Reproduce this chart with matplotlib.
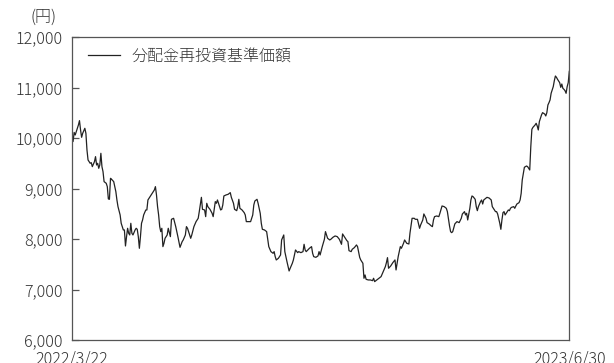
import matplotlib
matplotlib.use("Agg")
import matplotlib.pyplot as plt
import matplotlib.ticker as mticker
import pandas as pd

plt.rcParams['font.family'] = ['Noto Sans CJK JP', 'DejaVu Sans']
plt.rcParams['font.weight'] = 'light'

start_date = "2022-03-22"
end_date = "2023-06-30"
series_label = "分配金再投資基準価額"
unit_label = "(円)"
x_tick_labels = ["2022/3/22", "2023/6/30"]
y_ticks = [6000, 7000, 8000, 9000, 10000, 11000, 12000]

# days elapsed since start_date
day_offsets = [
    0, 1, 2, 3, 4, 6, 7, 8, 9, 10, 12, 13, 14, 15, 17, 18, 19, 21, 22, 23,
    24, 25, 26, 27, 28, 29, 30, 32, 33, 34, 35, 36, 37, 39, 41, 42, 43, 45, 46, 48,
    49, 50, 51, 52, 53, 54, 55, 56, 57, 59, 60, 61, 62, 63, 64, 65, 66, 67, 69, 70,
    71, 72, 74, 77, 78, 79, 80, 81, 82, 83, 84, 85, 86, 87, 89, 90, 92, 93, 95, 97,
    99, 101, 103, 104, 106, 107, 108, 109, 111, 112, 114, 116, 118, 119, 121, 122, 124, 125, 126, 127,
    129, 131, 132, 134, 135, 136, 137, 139, 140, 141, 142, 144, 146, 148, 149, 151, 152, 154, 155, 156,
    157, 159, 161, 162, 163, 164, 167, 169, 170, 171, 173, 174, 176, 177, 178, 180, 182, 184, 186, 188,
    189, 190, 191, 193, 195, 196, 198, 199, 201, 203, 204, 206, 207, 208, 209, 211, 212, 214, 216, 217,
    218, 219, 221, 222, 224, 225, 226, 228, 230, 231, 232, 234, 236, 237, 239, 241, 242, 244, 246, 248,
    250, 252, 253, 255, 257, 258, 259, 261, 262, 264, 266, 267, 269, 270, 272, 273, 274, 275, 277, 279,
    281, 282, 283, 285, 287, 289, 291, 293, 294, 295, 296, 298, 300, 302, 303, 305, 306, 307, 308, 310,
    311, 312, 313, 315, 316, 317, 318, 320, 321, 323, 325, 326, 328, 329, 331, 332, 334, 336, 337, 338,
    339, 341, 343, 344, 346, 348, 350, 351, 353, 354, 355, 356, 358, 360, 362, 364, 365, 367, 368, 369,
    370, 372, 373, 374, 375, 377, 378, 379, 380, 382, 383, 384, 385, 387, 388, 390, 392, 393, 395, 396,
    397, 398, 400, 401, 402, 403, 404, 405, 406, 408, 409, 410, 411, 413, 414, 415, 416, 418, 419, 420,
    421, 423, 425, 426, 428, 429, 430, 431, 433, 434, 435, 436, 437, 438, 439, 440, 442, 443, 444, 445,
    446, 447, 448, 450, 451, 452, 453, 454, 456, 457, 458, 459, 460, 461, 462, 463, 464, 465,
]

nav_values = [
    9990, 9930, 10110, 10060, 10126, 10258, 10344, 10159, 10014, 10093, 10192, 10093, 9763, 9565, 9499, 9512, 9433, 9532, 9631, 9466,
    9499, 9400, 9466, 9697, 9433, 9334, 9136, 9103, 9037, 8793, 8786, 9202, 9182, 9136, 8938, 8773, 8641, 8476, 8311, 8179,
    8179, 7862, 8047, 8212, 8113, 8080, 8311, 8113, 8080, 8179, 8212, 8192, 8047, 7816, 8047, 8311, 8377, 8476, 8575, 8575,
    8773, 8806, 8872, 8971, 9037, 8872, 8641, 8476, 8245, 8146, 8212, 7849, 7915, 8014, 8080, 8212, 8047, 8390, 8410, 8245,
    8047, 7835, 7948, 7981, 8080, 8245, 8212, 8146, 8014, 8080, 8245, 8344, 8410, 8542, 8825, 8588, 8575, 8443, 8707, 8641,
    8588, 8509, 8443, 8740, 8707, 8773, 8707, 8575, 8588, 8674, 8852, 8872, 8885, 8918, 8825, 8707, 8588, 8561, 8641, 8786,
    8608, 8575, 8522, 8476, 8344, 8344, 8344, 8476, 8674, 8753, 8786, 8707, 8509, 8311, 8192, 8179, 8146, 7849, 7750, 7717,
    7750, 7651, 7585, 7618, 7684, 7981, 8080, 7750, 7552, 7367, 7420, 7519, 7585, 7684, 7783, 7730, 7750, 7730, 7750, 7895,
    7783, 7750, 7796, 7816, 7849, 7717, 7651, 7637, 7664, 7750, 7684, 7849, 7994, 8146, 8014, 7981, 7994, 8034, 8060, 8047,
    7994, 7895, 8100, 8034, 7968, 7948, 7769, 7750, 7796, 7829, 7882, 7849, 7637, 7585, 7519, 7222, 7288, 7202, 7189, 7189,
    7175, 7222, 7156, 7189, 7222, 7255, 7354, 7453, 7532, 7631, 7420, 7466, 7532, 7585, 7387, 7651, 7750, 7849, 7816, 7915,
    7981, 7948, 7915, 7901, 8113, 8258, 8410, 8410, 8390, 8390, 8212, 8278, 8377, 8496, 8410, 8324, 8297, 8258, 8245, 8377,
    8443, 8456, 8443, 8509, 8654, 8641, 8608, 8542, 8258, 8146, 8126, 8146, 8300, 8344, 8324, 8410, 8495, 8542, 8476, 8509,
    8377, 8608, 8773, 8852, 8839, 8786, 8641, 8561, 8641, 8740, 8773, 8693, 8773, 8806, 8825, 8812, 8773, 8641, 8575, 8542,
    8542, 8495, 8311, 8192, 8377, 8522, 8542, 8476, 8509, 8575, 8561, 8608, 8627, 8641, 8608, 8654, 8693, 8720, 8773, 8905,
    9169, 9420, 9446, 9433, 9367, 9829, 10172, 10211, 10258, 10291, 10238, 10159, 10324, 10390, 10456, 10502, 10475, 10436, 10502, 10654,
    10700, 10753, 10885, 11017, 11135, 11228, 11201, 11162, 11096, 11003, 11069, 10983, 10964, 10937, 10885, 11017, 11096, 11320,
]

n = min(len(day_offsets), len(nav_values))
dates = pd.Timestamp(start_date) + pd.to_timedelta(day_offsets[:n], unit="D")

TEXT = "#333333"
fs = 11.5

fig = plt.figure(figsize=(6.14, 3.63), dpi=100)
ax = fig.add_axes([72 / 614, 1 - 340 / 363, (569.3 - 72) / 614, (340 - 37) / 363])

ax.plot(dates, nav_values[:n], color="#222222", linewidth=0.9, label=series_label)

ax.set_xlim(pd.Timestamp(start_date), pd.Timestamp(end_date))
ax.set_ylim(y_ticks[0], y_ticks[-1])
ax.set_yticks(y_ticks)
ax.yaxis.set_major_formatter(mticker.FuncFormatter(lambda v, p: f"{int(v):,}"))
ax.set_xticks([pd.Timestamp(start_date), pd.Timestamp(end_date)])
ax.set_xticklabels(x_tick_labels)

ax.tick_params(axis="y", direction="in", length=5, width=0.9, color="#555555",
               labelsize=fs, labelcolor=TEXT, pad=7)
ax.tick_params(axis="x", length=0, labelsize=fs, labelcolor=TEXT, pad=8)

for s in ax.spines.values():
    s.set_color("#555555")
    s.set_linewidth(0.9)

leg = ax.legend(loc="upper left", bbox_to_anchor=(16 / 497, 1 - 11 / 303),
                frameon=False, borderpad=0, borderaxespad=0,
                handlelength=2.0, handletextpad=0.75, fontsize=fs)
for t in leg.get_texts():
    t.set_color(TEXT)

fig.text(44 / 614, 1 - 17 / 363, unit_label, ha="center", va="center",
         fontsize=fs, color=TEXT)

fig.savefig("out.png", dpi=100)
